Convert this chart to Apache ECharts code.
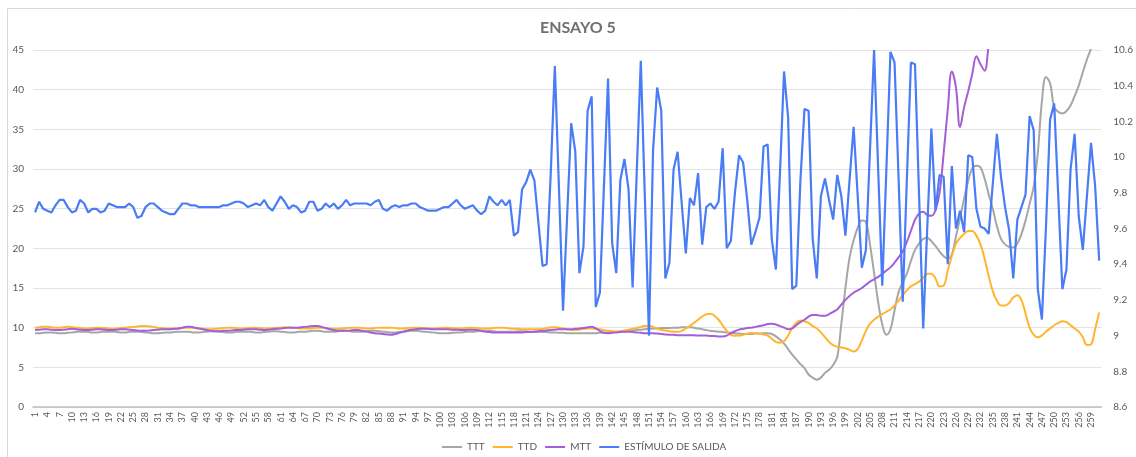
<!DOCTYPE html>
<html>
<head>
<meta charset="utf-8">
<script src="https://cdn.jsdelivr.net/npm/echarts@6/dist/echarts.min.js"></script>
<style>
  html, body { margin: 0; padding: 0; background: #fff; }
  #vis { width: 1136px; height: 457px; }
</style>
</head>
<body>
<div id="vis"></div>
<script>
// muestras 1..261
const categories = [];
for (let i = 1; i <= 261; i++) categories.push(String(i));

const seriesNames = ['TTT', 'TTD', 'MTT', 'ESTÍMULO DE SALIDA'];

const ttt = [
  9.3, 9.3, 9.35, 9.4, 9.4, 9.35, 9.3, 9.3, 9.35, 9.4,
  9.45, 9.5, 9.5, 9.45, 9.4, 9.4, 9.45, 9.5, 9.5, 9.5,
  9.45, 9.4, 9.4, 9.45, 9.5, 9.5, 9.45, 9.4, 9.35, 9.3,
  9.3, 9.35, 9.4, 9.4, 9.45, 9.5, 9.5, 9.5, 9.45, 9.4,
  9.4, 9.45, 9.5, 9.55, 9.55, 9.5, 9.45, 9.4, 9.4, 9.45,
  9.5, 9.5, 9.5, 9.45, 9.4, 9.4, 9.45, 9.5, 9.55, 9.55,
  9.5, 9.45, 9.4, 9.4, 9.45, 9.5, 9.5, 9.55, 9.6, 9.6,
  9.55, 9.5, 9.5, 9.5, 9.55, 9.6, 9.6, 9.55, 9.5, 9.5,
  9.5, 9.55, 9.6, 9.6, 9.55, 9.5, 9.45, 9.4, 9.4, 9.45,
  9.5, 9.55, 9.6, 9.6, 9.55, 9.5, 9.45, 9.4, 9.35, 9.3,
  9.3, 9.3, 9.35, 9.4, 9.4, 9.45, 9.5, 9.5, 9.55, 9.6,
  9.6, 9.6, 9.55, 9.5, 9.5, 9.5, 9.5, 9.5, 9.55, 9.55,
  9.55, 9.5, 9.5, 9.5, 9.45, 9.45, 9.4, 9.4, 9.35, 9.35,
  9.3, 9.3, 9.3, 9.3, 9.3, 9.3, 9.3, 9.3, 9.35, 9.35,
  9.4, 9.45, 9.5, 9.5, 9.55, 9.6, 9.65, 9.7, 9.75, 9.8,
  9.85, 9.9, 9.9, 9.95, 9.95, 9.95, 10.0, 10.0, 10.05, 10.05,
  10.05, 10.0, 9.9, 9.8, 9.7, 9.6, 9.55, 9.5, 9.45, 9.4,
  9.35, 9.3, 9.25, 9.2, 9.2, 9.2, 9.25, 9.25, 9.3, 9.3,
  9.2, 8.9, 8.5, 8.0, 7.3, 6.6, 6.0, 5.4, 4.9, 4.1,
  3.7, 3.45, 3.7, 4.3, 4.7, 5.3, 6.3, 10.5, 15.0, 18.8,
  21.0, 22.6, 23.5, 23.3, 20.5, 16.9, 13.2, 10.4, 9.1, 9.8,
  12.2, 14.5, 15.7, 16.8, 18.4, 19.8, 20.6, 21.2, 21.3, 20.9,
  20.3, 19.6, 19.0, 18.7, 19.2, 21.5, 23.8, 26.3, 28.5, 30.1,
  30.4, 30.2, 28.8, 26.8, 25.0, 22.8, 21.2, 20.5, 20.2, 20.1,
  20.6, 21.8, 23.5, 25.6, 27.8, 32.0, 38.5, 41.6, 40.8, 37.8,
  37.2, 37.0, 37.3, 38.0, 39.2, 40.5, 42.2, 43.8, 45.2, 47.0,
  48.8
];

const ttd = [
  10.0, 10.05, 10.1, 10.1, 10.05, 10.0, 10.0, 10.05, 10.1, 10.05,
  10.0, 9.95, 9.9, 9.9, 9.95, 10.0, 10.0, 9.95, 9.9, 9.85,
  9.9, 9.95, 10.0, 10.05, 10.1, 10.15, 10.2, 10.2, 10.15, 10.1,
  10.0, 9.95, 9.9, 9.9, 9.9, 9.9, 9.95, 10.0, 10.0, 9.95,
  9.9, 9.85, 9.8, 9.8, 9.85, 9.9, 9.95, 10.0, 10.0, 9.95,
  9.9, 9.9, 9.95, 10.0, 10.0, 9.95, 9.9, 9.9, 9.95, 10.0,
  10.0, 10.05, 10.05, 10.0, 9.95, 9.9, 9.9, 9.9, 9.95, 10.0,
  10.0, 9.95, 9.9, 9.85, 9.85, 9.9, 9.95, 10.0, 10.0, 10.0,
  9.95, 9.9, 9.9, 9.95, 10.0, 10.0, 10.0, 10.0, 9.95, 9.9,
  9.9, 9.95, 10.0, 10.0, 10.0, 9.95, 9.9, 9.9, 9.9, 9.95,
  10.0, 10.0, 9.95, 9.9, 9.9, 9.95, 10.0, 10.0, 9.95, 9.9,
  9.9, 9.9, 9.95, 10.0, 10.0, 9.95, 9.9, 9.85, 9.85, 9.8,
  9.8, 9.8, 9.8, 9.8, 9.85, 9.95, 10.05, 10.05, 10.0, 9.9,
  9.8, 9.7, 9.7, 9.75, 9.85, 9.9, 9.9, 9.85, 9.8, 9.7,
  9.6, 9.55, 9.5, 9.55, 9.65, 9.75, 9.85, 9.95, 10.1, 10.2,
  10.25, 10.1, 9.9, 9.7, 9.65, 9.55, 9.5, 9.48, 9.6, 9.9,
  10.2, 10.6, 11.0, 11.4, 11.7, 11.75, 11.5, 11.0, 10.3, 9.6,
  9.1, 8.98, 9.0, 9.1, 9.25, 9.32, 9.3, 9.25, 9.15, 9.0,
  8.6, 8.2, 8.1, 8.3, 9.0, 10.0, 10.6, 10.9, 10.8, 10.6,
  10.2, 9.9, 9.4, 8.8, 8.2, 7.8, 7.6, 7.5, 7.4, 7.2,
  7.0, 7.3, 8.4, 9.6, 10.5, 11.0, 11.4, 11.7, 12.0, 12.3,
  12.8, 13.4, 14.1, 14.7, 15.2, 15.5, 15.8, 16.3, 16.8, 16.8,
  16.2, 15.2, 15.3, 17.2, 19.0, 20.6, 21.3, 21.8, 22.2, 22.2,
  21.6, 20.5, 18.7, 16.5, 14.6, 13.4, 12.8, 12.8, 13.1, 13.8,
  14.1, 13.5, 11.8, 10.0, 9.1, 8.8, 9.0, 9.5, 9.9, 10.3,
  10.6, 10.8, 10.7, 10.3, 9.9, 9.5, 8.8, 7.8, 7.9, 9.8,
  11.9
];

const mtt = [
  9.7, 9.75, 9.8, 9.8, 9.75, 9.7, 9.7, 9.75, 9.8, 9.85,
  9.8, 9.75, 9.7, 9.7, 9.75, 9.8, 9.8, 9.75, 9.7, 9.7,
  9.75, 9.8, 9.8, 9.75, 9.7, 9.65, 9.6, 9.6, 9.65, 9.7,
  9.75, 9.8, 9.8, 9.8, 9.85, 9.9, 10.0, 10.1, 10.1, 10.0,
  9.9, 9.8, 9.7, 9.6, 9.55, 9.55, 9.6, 9.6, 9.65, 9.7,
  9.7, 9.75, 9.8, 9.8, 9.8, 9.75, 9.7, 9.75, 9.8, 9.85,
  9.9, 9.95, 10.0, 10.0, 10.0, 10.05, 10.1, 10.15, 10.2, 10.2,
  10.1, 9.95, 9.8, 9.7, 9.6, 9.6, 9.6, 9.65, 9.7, 9.7,
  9.6, 9.5, 9.4, 9.3, 9.25, 9.2, 9.15, 9.1, 9.2, 9.35,
  9.5, 9.65, 9.75, 9.8, 9.85, 9.85, 9.85, 9.8, 9.8, 9.8,
  9.8, 9.8, 9.75, 9.75, 9.7, 9.7, 9.75, 9.75, 9.7, 9.6,
  9.5, 9.45, 9.4, 9.4, 9.4, 9.4, 9.4, 9.4, 9.4, 9.4,
  9.45, 9.45, 9.5, 9.55, 9.6, 9.65, 9.7, 9.75, 9.8, 9.8,
  9.8, 9.8, 9.85, 9.9, 9.95, 10.05, 10.1, 9.9, 9.6, 9.35,
  9.3, 9.35, 9.4, 9.45, 9.5, 9.5, 9.45, 9.4, 9.35, 9.3,
  9.3, 9.3, 9.25, 9.2, 9.15, 9.1, 9.1, 9.05, 9.05, 9.05,
  9.05, 9.05, 9.0, 9.0, 9.0, 8.95, 8.95, 8.9, 8.9, 9.0,
  9.3, 9.55, 9.75, 9.85, 9.95, 10.0, 10.1, 10.2, 10.3, 10.45,
  10.5, 10.4, 10.2, 10.0, 9.8, 9.9, 10.3, 10.7, 11.0, 11.4,
  11.6, 11.6, 11.5, 11.5, 11.7, 12.0, 12.3, 12.9, 13.5, 14.0,
  14.4, 14.7, 15.0, 15.4, 15.8, 16.1, 16.4, 16.8, 17.2, 17.6,
  18.2, 18.9, 19.6, 20.8, 22.2, 23.6, 24.4, 24.6, 24.2, 24.1,
  24.8, 27.0, 32.0, 37.5, 42.3, 40.3, 35.3, 37.8, 39.8, 42.0,
  44.2, 43.2, 42.4, 45.5, 48.0, null, null, null, null, null,
  null, null, null, null, null, null, null, null, null, null,
  null, null, null, null, null, null, null, null, null, null,
  null
];

// eje derecho
const estimulo = [
  9.69, 9.75, 9.71, 9.70, 9.69, 9.73, 9.76, 9.76, 9.72, 9.69,
  9.70, 9.76, 9.74, 9.69, 9.71, 9.71, 9.69, 9.70, 9.74, 9.73,
  9.72, 9.72, 9.72, 9.74, 9.72, 9.66, 9.67, 9.72, 9.74, 9.74,
  9.72, 9.70, 9.69, 9.68, 9.68, 9.71, 9.74, 9.74, 9.73, 9.73,
  9.72, 9.72, 9.72, 9.72, 9.72, 9.72, 9.73, 9.73, 9.74, 9.75,
  9.75, 9.74, 9.72, 9.73, 9.74, 9.73, 9.76, 9.72, 9.70, 9.74,
  9.78, 9.75, 9.71, 9.73, 9.72, 9.69, 9.70, 9.75, 9.75, 9.70,
  9.71, 9.74, 9.72, 9.74, 9.71, 9.73, 9.76, 9.73, 9.74, 9.74,
  9.74, 9.74, 9.73, 9.75, 9.76, 9.71, 9.70, 9.72, 9.73, 9.72,
  9.73, 9.73, 9.74, 9.74, 9.72, 9.71, 9.70, 9.70, 9.70, 9.71,
  9.72, 9.72, 9.74, 9.76, 9.73, 9.71, 9.72, 9.73, 9.70, 9.68,
  9.70, 9.78, 9.75, 9.73, 9.76, 9.73, 9.76, 9.56, 9.58, 9.82,
  9.86, 9.93, 9.87, 9.63, 9.39, 9.40, 9.91, 10.51, 9.83, 9.14,
  9.67, 10.19, 10.03, 9.35, 9.50, 10.26, 10.34, 9.16, 9.24, 9.84,
  10.44, 9.52, 9.35, 9.87, 9.99, 9.82, 9.27, 9.91, 10.54, 9.77,
  9.00, 10.04, 10.39, 10.26, 9.32, 9.41, 9.93, 10.03, 9.74, 9.46,
  9.77, 9.73, 9.91, 9.51, 9.72, 9.74, 9.71, 9.75, 10.05, 9.49,
  9.53, 9.80, 10.01, 9.97, 9.76, 9.51, 9.58, 9.66, 10.06, 10.07,
  9.54, 9.37, 9.91, 10.48, 10.22, 9.26, 9.28, 9.87, 10.27, 10.26,
  9.54, 9.32, 9.78, 9.88, 9.76, 9.65, 9.90, 9.78, 9.56, 9.87,
  10.17, 9.78, 9.38, 9.48, 10.04, 10.60, 9.93, 9.28, 9.93, 10.59,
  10.53, 9.87, 9.19, 9.87, 10.53, 10.52, 9.78, 9.04, 9.61, 10.16,
  9.70, 9.90, 9.89, 9.40, 9.95, 9.60, 9.70, 9.58, 10.01, 10.00,
  9.71, 9.61, 9.60, 9.57, 9.85, 10.13, 9.89, 9.72, 9.59, 9.32,
  9.65, 9.72, 9.79, 10.23, 10.15, 9.26, 9.09, 9.61, 10.21, 10.30,
  9.78, 9.26, 9.37, 9.93, 10.13, 9.67, 9.48, 9.78, 10.08, 9.84,
  9.42
];

const colors = ['#a6a6a6', '#ffb52e', '#a35fd8', '#4a7cf6'];
const font = 'Lato, "Noto Sans", sans-serif';
const textGray = '#595959';

const chart = echarts.init(document.getElementById('vis'), null, { renderer: 'canvas' });

const lineSeries = [ttt, ttd, mtt].map((arr, i) => ({
  name: seriesNames[i],
  type: 'line',
  yAxisIndex: 0,
  data: arr,
  symbol: 'none',
  smooth: 0.4,
  connectNulls: false,
  lineStyle: { width: 2, color: colors[i] },
  itemStyle: { color: colors[i] }
}));

const options = {
  animation: false,
  backgroundColor: '#ffffff',
  textStyle: { fontFamily: font },
  title: {
    text: 'ENSAYO 5',
    left: 535,
    top: 15,
    textStyle: { color: '#707070', fontSize: 16, fontWeight: 'bold', fontFamily: font }
  },
  graphic: [{
    type: 'rect',
    shape: { x: 7.5, y: 8.5, width: 1140, height: 460 },
    style: { fill: 'none', stroke: '#d9d9d9', lineWidth: 1 },
    silent: true
  }],
  legend: {
    bottom: 0,
    left: 437,
    icon: 'rect',
    itemWidth: 20,
    itemHeight: 2,
    itemGap: 8,
    textStyle: { color: textGray, fontSize: 10, fontFamily: font },
    data: seriesNames
  },
  grid: { left: 33, right: 27, top: 50, bottom: 50, containLabel: false },
  xAxis: {
    type: 'category',
    data: categories,
    boundaryGap: true,
    axisLine: { lineStyle: { color: '#bfbfbf', width: 1.5 } },
    axisTick: { show: false },
    axisLabel: { interval: 2, rotate: 90, fontSize: 9, color: textGray, margin: 5, fontFamily: font }
  },
  yAxis: [
    {
      type: 'value',
      min: 0,
      max: 45,
      interval: 5,
      axisLine: { show: false },
      axisTick: { show: false },
      axisLabel: { fontSize: 10, color: textGray, margin: 9, fontFamily: font },
      splitLine: { lineStyle: { color: '#e3e3e3', width: 1 } }
    },
    {
      type: 'value',
      min: 8.6,
      max: 10.6,
      interval: 0.2,
      axisLine: { show: false },
      axisTick: { show: false },
      axisLabel: { fontSize: 10, color: textGray, margin: 12, fontFamily: font },
      splitLine: { show: false }
    }
  ],
  series: [
    ...lineSeries,
    {
      name: seriesNames[3],
      type: 'line',
      yAxisIndex: 1,
      data: estimulo,
      symbol: 'none',
      lineStyle: { width: 2.2, color: colors[3] },
      itemStyle: { color: colors[3] }
    }
  ]
};

chart.setOption(options);
</script>
</body>
</html>
